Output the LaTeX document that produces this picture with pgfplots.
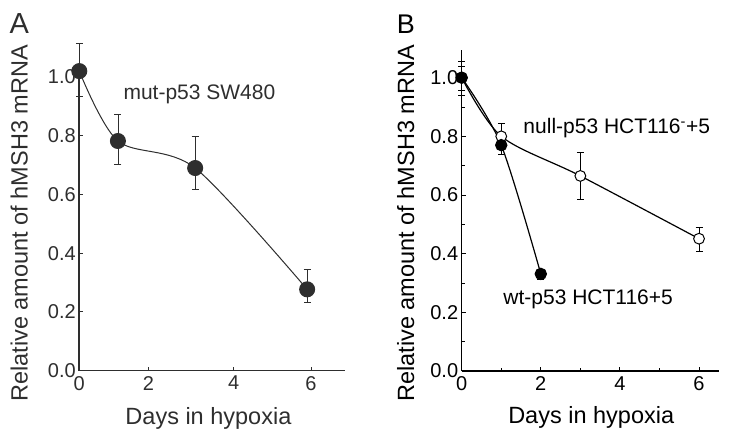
\documentclass[border=0pt]{standalone}
\usepackage{fontspec}
\setmainfont{Liberation Sans}
\usepackage{pgfplots}
\pgfplotsset{compat=1.18}
\definecolor{dg}{HTML}{2E2E2E}
\begin{document}
\begin{tikzpicture}[x=1pt,y=1pt]
\useasboundingbox (0,0) rectangle (729,439);
\node[anchor=base west, font=\fontsize{29}{34}\selectfont, text=dg, inner sep=0] at (9.3,405.7) {A};
\node[anchor=base west, font=\fontsize{27}{32}\selectfont, text=black, inner sep=0] at (396.7,405.7) {B};

\begin{axis}[
  at={(79.3pt,68.3pt)}, anchor=south west,
  scale only axis, width=265.7pt, height=299.6pt,
  xmin=0, xmax=6.88, ymin=0, ymax=1.02,
  axis lines=left, axis line style={-, line width=1.6pt, dg},
  tick align=inside, major tick length=4pt, tick style={line width=1pt, dg},
  xtick={0,1.79,4,6}, xticklabels={0,2,4,6},
  ytick={0,0.2,0.4,0.6,0.8,1.0}, yticklabels={0.0,0.2,0.4,0.6,0.8,1.0},
  tick label style={font=\fontsize{20}{24}\selectfont, text=dg},
  xticklabel style={yshift=-2pt},
  clip=false,
  xlabel={Days in hypoxia}, ylabel={Relative amount of hMSH3 mRNA},
  label style={font=\fontsize{23.5}{28}\selectfont, text=dg},
  xlabel style={at={(axis description cs:0.486,-0.178)}, anchor=base},
  ylabel style={at={(axis description cs:-0.226,0.492)}, anchor=center},
]
\addplot[color=dg, line width=1pt, smooth, mark=*, mark size=7.5pt,
  mark options={fill=dg, draw=dg, solid},
  error bars/.cd, y dir=both, y explicit,
  error bar style={line width=0.8pt, dg},
  error mark options={rotate=90, mark size=3.5pt, line width=0.8pt, dg}]
 table[x=x, y=y, y error plus=ep, y error minus=em] {
 x y ep em
 0 1.02 0.095 0.087
 1 0.782 0.092 0.079
 3 0.69 0.109 0.073
 5.9 0.277 0.067 0.044
 };
\node[anchor=base west, font=\fontsize{21}{25}\selectfont, text=dg, inner sep=0] at (axis cs:1.14,0.924) {mut-p53 SW480};
\end{axis}

\begin{axis}[
  at={(461.7pt,68pt)}, anchor=south west,
  scale only axis, width=257.5pt, height=320.9pt,
  xmin=0, xmax=6.51, ymin=0, ymax=1.094,
  axis lines=left, axis line style={-, line width=1.2pt, black},
  tick align=inside, major tick length=4pt, minor tick length=3pt,
  tick style={line width=0.9pt, black},
  xtick={0,2,4,6}, xticklabels={0,2,4,6}, minor xtick={1,3,5},
  ytick={0,0.2,0.4,0.6,0.8,1.0}, yticklabels={0.0,0.2,0.4,0.6,0.8,1.0},
  minor ytick={0.1,0.3,0.5,0.7,0.9},
  tick label style={font=\fontsize{20}{24}\selectfont, text=black},
  xticklabel style={yshift=-2pt},
  clip=false,
  xlabel={Days in hypoxia}, ylabel={Relative amount of hMSH3 mRNA},
  label style={font=\fontsize{23.5}{28}\selectfont, text=black},
  xlabel style={at={(axis description cs:0.503,-0.165)}, anchor=base},
  ylabel style={at={(axis description cs:-0.217,0.46)}, anchor=center},
]
\addplot[color=black, line width=1.2pt, smooth, mark=*, mark size=5.4pt,
  mark options={fill=white, draw=black, line width=1pt, solid},
  error bars/.cd, y dir=both, y explicit,
  error bar style={line width=0.8pt, black},
  error mark options={rotate=90, mark size=3.5pt, line width=0.8pt, black}]
 table[x=x, y=y, y error plus=ep, y error minus=em] {
 x y ep em
 0 1.0 0.055 0.06
 1 0.80 0.045 0.045
 3 0.665 0.08 0.079
 6 0.451 0.037 0.043
 };
\addplot[color=black, line width=1.2pt, smooth, mark=*, mark size=5.6pt,
  mark options={fill=black, draw=black, solid},
  error bars/.cd, y dir=both, y explicit,
  error bar style={line width=0.8pt, black},
  error mark options={rotate=90, mark size=3.5pt, line width=0.8pt, black}]
 table[x=x, y=y, y error plus=ep, y error minus=em] {
 x y ep em
 0 1.0 0.037 0.042
 1 0.77 0.02 0.03
 2 0.331 0.01 0.02
 };
\node[anchor=base west, font=\fontsize{21}{25}\selectfont, text=black, inner sep=0] at (axis cs:1.557,0.808) {null-p53 HCT116\textsuperscript{-}+5};
\node[anchor=base west, font=\fontsize{21}{25}\selectfont, text=black, inner sep=0] at (axis cs:1.05,0.227) {wt-p53 HCT116+5};
\end{axis}
\end{tikzpicture}
\end{document}
